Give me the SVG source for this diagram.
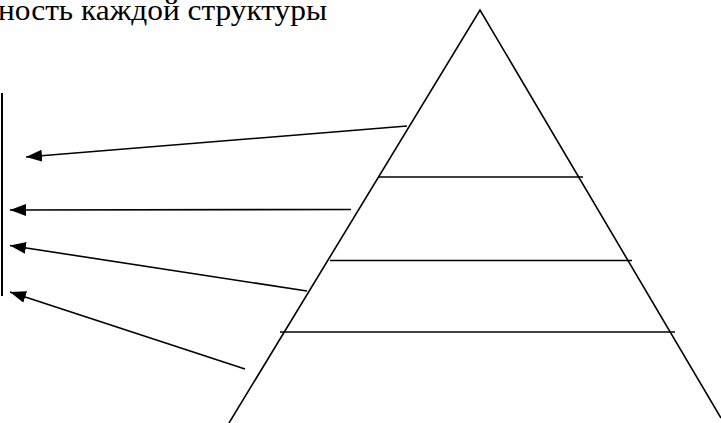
<svg xmlns="http://www.w3.org/2000/svg" width="721" height="423" viewBox="0 0 721 423">
<style>
.ln{stroke:#000;stroke-width:1.6;fill:none}
.ar{stroke:#000;stroke-width:1.6;fill:none;marker-end:url(#ah)}
</style>
<defs>
<marker id="ah" viewBox="0 0 16 12" refX="16" refY="6" markerWidth="16" markerHeight="12" markerUnits="userSpaceOnUse" orient="auto">
<path d="M0,0 L16,6 L0,12 z" fill="#000"/>
</marker>
</defs>
<rect width="721" height="423" fill="#fff"/>
<g id="title"><text x="-2" y="20" font-family="'Liberation Serif', 'DejaVu Serif', serif" font-size="29" textLength="329" lengthAdjust="spacingAndGlyphs" fill="#000">ность каждой структуры</text></g>
<g id="pyramid">
<path class="ln" d="M229,423 L480,10 L721,418"/>
<line class="ln" x1="378" y1="177" x2="583" y2="177"/>
<line class="ln" x1="330" y1="260.5" x2="632" y2="260.5"/>
<line class="ln" x1="280" y1="332" x2="675" y2="332"/>
</g>
<g id="bracket"><line x1="2" y1="93" x2="2" y2="296" stroke="#000" stroke-width="2"/></g>
<g id="connectors">
<line class="ar" x1="407" y1="126" x2="26" y2="157"/>
<line class="ar" x1="351" y1="209.5" x2="10" y2="210"/>
<line class="ar" x1="307" y1="291" x2="10" y2="245.5"/>
<line class="ar" x1="245" y1="369" x2="10" y2="292"/>
</g>
</svg>
